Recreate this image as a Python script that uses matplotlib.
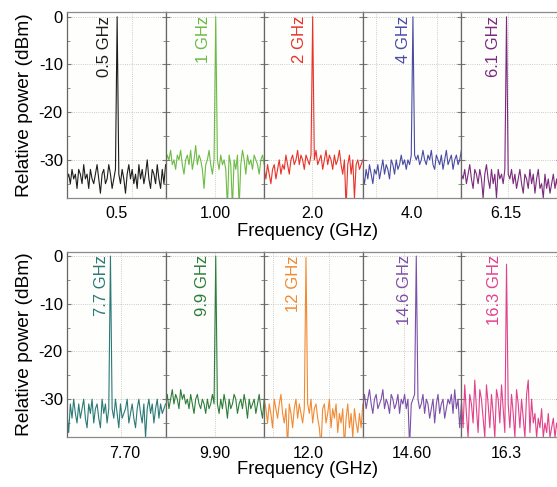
import numpy as np
import matplotlib
matplotlib.use("Agg")
import matplotlib.pyplot as plt
from matplotlib.transforms import blended_transform_factory

plt.rcParams['font.family'] = ['Liberation Sans', 'DejaVu Sans']
plt.rcParams['axes.unicode_minus'] = False

# ---- data (relative power, dBm) ----
labels_top = ["0.5 GHz", "1 GHz", "2 GHz", "4 GHz", "6.1 GHz"]
labels_bot = ["7.7 GHz", "9.9 GHz", "12 GHz", "14.6 GHz", "16.3 GHz"]
ticks_top = ["0.5", "1.00", "2.0", "4.0", "6.15"]
ticks_bot = ["7.70", "9.90", "12.0", "14.60", "16.3"]

p_05 = [-34, -33, -35, -32, -34, -33, -36, -32, -33, -35, -31, -34, -33, -36, -32, -34, -35, -33, -31, -34,
        -37, -33, -32, -35, -34, -31, -33, -36, -34, -32, 0, -33, -35, -32, -34, -37, -33, -31, -34, -32,
        -35, -33, -36, -31, -34, -32, -35, -33, -30, -34, -36, -32, -33, -35, -31, -34, -36, -32, -35, -31]
p_1 = [-31, -29, -30, -28, -31, -30, -32, -29, -30, -28, -31, -33, -30, -29, -31, -28, -32, -30, -27, -31,
       -29, -30, -32, -36, -31, -30, -28, -31, -33, -30, 0, -30, -32, -29, -31, -30, -32, -40, -29, -31,
       -40, -30, -32, -29, -40, -31, -28, -30, -33, -29, -31, -30, -32, -29, -30, -31, -33, -30, -29, -31]
p_2 = [-32, -34, -31, -33, -35, -32, -31, -34, -32, -30, -33, -31, -32, -29, -31, -33, -30, -29, -31, -30,
       -28, -31, -29, -30, -32, -29, -30, -31, -29, 0, -30, -28, -31, -30, -29, -32, -30, -28, -31, -29,
       -30, -32, -29, -31, -30, -28, -31, -33, -30, -40, -31, -29, -33, -30, -38, -31, -30, -32, -31, -30]
p_4 = [-33, -35, -32, -34, -31, -33, -35, -32, -33, -31, -34, -32, -30, -33, -31, -32, -34, -30, -31, -33,
       -30, -32, -31, -29, -31, -30, -32, -30, -31, -29, 0, -29, -30, -29, -31, -30, -28, -30, -31, -29,
       -30, -28, -31, -32, -29, -30, -31, -29, -32, -30, -28, -31, -30, -29, -32, -30, -29, -31, -30, -28]
p_61 = [-33, -34, -32, -35, -33, -31, -34, -36, -32, -33, -35, -32, -34, -38, -33, -31, -34, -36, -32, -35,
        -33, -38, -32, -34, -33, -35, -32, 0, -33, -34, -32, -35, -33, -36, -34, -32, -35, -37, -33, -34,
        -36, -32, -35, -33, -37, -34, -32, -36, -35, -38, -33, -36, -34, -37, -35, -33, -36, -34, -37, -35]
p_77 = [-33, -37, -31, -34, -30, -33, -35, -31, -34, -32, -30, -34, -36, -31, -33, -30, -35, -32, -31, -34,
        -36, -30, -33, -31, -35, -32, 0, -32, -34, -30, -33, -36, -31, -34, -33, -32, -30, -35, -33, -31,
        -34, -36, -32, -30, -33, -35, -31, -38, -32, -30, -33, -31, -35, -32, -30, -34, -31, -33, -32, -31]
p_99 = [-31, -29, -32, -30, -28, -31, -29, -30, -32, -28, -30, -29, -31, -30, -32, -29, -31, -33, -30, -29,
        -31, -32, -30, -31, -33, -30, -32, -31, -29, -31, 0, -31, -33, -30, -32, -29, -31, -34, -30, -32,
        -31, -29, -30, -33, -31, -30, -32, -29, -31, -34, -30, -32, -31, -30, -33, -31, -29, -32, -34, -30]
p_12 = [-30, -32, -35, -31, -33, -36, -30, -32, -34, -31, -29, -33, -35, -32, -40, -31, -33, -36, -32, -30,
        -34, -31, -33, -35, -32, -0.3, -31, -33, -30, -35, -32, -31, -34, -36, -40, -32, -31, -35, -33, -30,
        -36, -32, -34, -31, -37, -33, -35, -32, -40, -34, -31, -36, -33, -38, -32, -35, -37, -33, -36, -31]
p_146 = [-31, -29, -32, -30, -28, -31, -33, -30, -29, -32, -31, -30, -28, -32, -30, -31, -33, -29, -30, -32,
         -31, -29, -33, -30, -31, -29, -32, -30, -40, -31, -30, -29, 0, -30, -32, -31, -29, -33, -30, -31,
         -34, -32, -30, -35, -31, -29, -33, -31, -30, -34, -32, -30, -31, -29, -33, -28, -32, -30, -36, -31]
p_163 = [-30, -36, -27, -33, -38, -29, -31, -35, -26, -32, -37, -28, -30, -34, -38, -27, -31, -36, -29, -33,
         -38, -28, -30, -35, -27, -32, -37, -1.7, -31, -36, -29, -33, -38, -28, -31, -36, -30, -34, -38, -29,
         -26, -37, -30, -35, -33, -38, -34, -36, -32, -38, -35, -37, -33, -38, -36, -34, -38, -35, -37, -36]

series_top = [p_05, p_1, p_2, p_4, p_61]
series_bot = [p_77, p_99, p_12, p_146, p_163]

# ---- styling ----
colors_top = ["#1e1e1e", "#6cbb45", "#e8332b", "#4a4ca3", "#7b2a7d"]
colors_bot = ["#2b7a78", "#2e7d3b", "#f28a33", "#7b50a8", "#e2418c"]
tickpos_top = [0.50, 0.50, 0.484, 0.50, 0.45]
tickpos_bot = [0.58, 0.50, 0.45, 0.50, 0.46]
textpos_top = [0.38, 0.38, 0.354, 0.41, 0.33]
textpos_bot = [0.346, 0.376, 0.30, 0.42, 0.334]
vgrid_top = [[0.66], [0.50], [0.484], [0.13, 0.75], [0.47]]
vgrid_bot = [[0.55], [0.50], [0.09, 0.66], [0.42], []]

fig = plt.figure(figsize=(5.57, 4.87), dpi=100)

left = 67 / 557
pw = 98.6 / 557
h = 185.5 / 487
rows = [(1 - 198 / 487, labels_top, ticks_top, series_top, colors_top, tickpos_top, textpos_top, vgrid_top),
        (1 - 437.3 / 487, labels_bot, ticks_bot, series_bot, colors_bot, tickpos_bot, textpos_bot, vgrid_bot)]

for bottom, labs, tks, sers, cols, tpos, xpos, vgr in rows:
    for i in range(5):
        ax = fig.add_axes([left + i * pw, bottom, pw, h])
        ax.set_facecolor("#fefefc")
        y = np.array(sers[i], dtype=float)
        x = np.arange(len(y))
        n = len(y) - 1
        ax.plot(x, y, color=cols[i], lw=0.8)
        ax.set_xlim(0, n)
        ax.set_ylim(-38, 0.9)
        for yy in [0, -10, -20, -30]:
            ax.axhline(yy, color="#bbbbbb", lw=0.6, ls=":", zorder=0)
        for g in vgr[i]:
            ax.axvline(g * n, color="#bbbbbb", lw=0.6, ls=":", zorder=0)
        ax.set_xticks([tpos[i] * n])
        ax.set_xticklabels([tks[i]], fontsize=11.5)
        ax.tick_params(axis="x", length=0, pad=6)
        ax.set_yticks([0, -10, -20, -30])
        ax.set_yticks([-5, -15, -25, -35], minor=True)
        ax.tick_params(axis="y", which="both", direction="in", right=True, color="#777777")
        ax.tick_params(axis="y", which="major", length=3)
        ax.tick_params(axis="y", which="minor", length=2)
        if i == 0:
            ax.tick_params(axis="y", labelsize=12, pad=3)
            ax.set_ylabel("Relative power (dBm)", fontsize=13.8, labelpad=4)
        else:
            ax.tick_params(axis="y", labelleft=False)
        for s in ax.spines.values():
            s.set_color("#8a8a8a")
            s.set_linewidth(0.9)
        ax.spines["left"].set_color("#666666")
        ax.text(xpos[i], 0.2, labs[i], color=cols[i], rotation=90, ha="center", va="top",
                fontsize=12, transform=blended_transform_factory(ax.transAxes, ax.transData))

fig.text(308 / 557, 1 - 231 / 487, "Frequency (GHz)", ha="center", va="center", fontsize=13.2)
fig.text(308 / 557, 1 - 470 / 487, "Frequency (GHz)", ha="center", va="center", fontsize=13.2)

fig.savefig("out.png", dpi=100)
